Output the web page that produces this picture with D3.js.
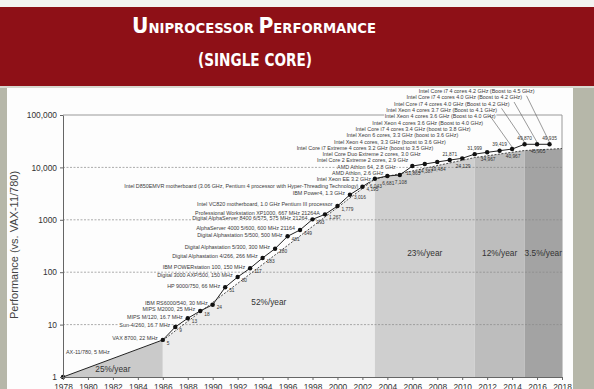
<!DOCTYPE html>
<html>
<head>
<meta charset="utf-8">
<script src="https://cdn.jsdelivr.net/npm/d3@7"></script>
<style>
  html, body { margin: 0; padding: 0; background: #b6b7a9; }
  svg { display: block; }
</style>
</head>
<body>
<div id="chart"></div>
<script>
const WIDTH = 594;
const HEIGHT = 389;
const FONT = 'Liberation Sans, Arial, sans-serif';
const TITLE_FONT = 'Liberation Sans Narrow, DejaVu Sans Condensed, Arial Narrow, sans-serif';

// machines, one per year, performance as plotted on the chart
const years = [1978, 1986, 1987, 1988, 1989, 1990, 1991, 1992, 1993, 1994, 1995,
  1996, 1997, 1998, 1999, 2000, 2001, 2002, 2003, 2004, 2005, 2006, 2007, 2008,
  2009, 2010, 2011, 2012, 2013, 2014, 2015, 2016, 2017];
const perf = [1, 5.1, 9, 13.2, 18.2, 24, 51.5, 81, 119, 187, 281,
  484, 639, 1020, 1270, 1830, 3010, 4280, 6090, 6860, 7160, 10600, 11600, 12700,
  13800, 14900, 17900, 19400, 20800, 22400, 27600, 27600, 27600];
const valueLabels = ['', '5', '9', '13', '18', '24', '51', '80', '117', '183', '280',
  '481', '649', '993', '1,267', '1,779', '3,016', '4,195', '6,043', '6,681', '7,108',
  '11,865', '14,387', '19,484', '21,871', '24,129', '31,999', '34,967', '39,419',
  '40,967', '49,870', '45,905', '49,935'];
const machines = [
  'AX-11/780, 5 MHz',
  'VAX 8700, 22 MHz',
  'Sun-4/260, 16.7 MHz',
  'MIPS M/120, 16.7 MHz',
  'MIPS M2000, 25 MHz',
  'IBM RS6000/540, 30 MHz',
  'HP 9000/750, 66 MHz',
  'Digital 3000 AXP/500, 150 MHz',
  'IBM POWERstation 100, 150 MHz',
  'Digital Alphastation 4/266, 266 MHz',
  'Digital Alphastation 5/300, 300 MHz',
  'Digital Alphastation 5/500, 500 MHz',
  'AlphaServer 4000 5/600, 600 MHz 21164',
  'Digital AlphaServer 8400 6/575, 575 MHz 21264',
  'Professional Workstation XP1000, 667 MHz 21264A',
  'Intel VC820 motherboard, 1.0 GHz Pentium III processor',
  'IBM Power4, 1.3 GHz',
  'Intel D850EMVR motherboard (3.06 GHz, Pentium 4 processor with Hyper-Threading Technology)',
  'Intel Xeon EE 3.2 GHz',
  'AMD Athlon, 2.6 GHz',
  'AMD Athlon 64, 2.8 GHz',
  'Intel Core 2 Extreme 2 cores, 2.9 GHz',
  'Intel Core Duo Extreme 2 cores, 3.0 GHz',
  'Intel Core i7 Extreme 4 cores 3.2 GHz (boost to 3.5 GHz)',
  'Intel Xeon 4 cores, 3.3 GHz (boost to 3.6 GHz)',
  'Intel Xeon 6 cores, 3.3 GHz (boost to 3.6 GHz)',
  'Intel Core i7 4 cores 3.4 GHz (boost to 3.8 GHz)',
  'Intel Xeon 4 cores 3.6 GHz (Boost to 4.0 GHz)',
  'Intel Xeon 4 cores 3.6 GHz (Boost to 4.0 GHz)',
  'Intel Xeon 4 cores 3.7 GHz (Boost to 4.1 GHz)',
  'Intel Core i7 4 cores 4.0 GHz (Boost to 4.2 GHz)',
  'Intel Core i7 4 cores 4.0 GHz (Boost to 4.2 GHz)',
  'Intel Core i7 4 cores 4.2 GHz (Boost to 4.5 GHz)'
];

// growth eras (shaded areas under the trend line)
const trendYears = [1978, 1986, 2003, 2011, 2015, 2018];
const trendPerf = [1, 5, 6000, 15400, 21000, 22900];
const eraRates = ['25%/year', '52%/year', '23%/year', '12%/year', '3.5%/year'];
const eraColors = ['#cacaca', '#ececec', '#cfcfcf', '#bdbdbd', '#a3a3a3'];
const rateAnchor = [1.42, 27, 236, 236, 236];

const yTicks = [1, 10, 100, 1000, 10000, 100000];
const yTickLabels = ['1', '10', '100', '1000', '10,000', '100,000'];
const xTicks = [1978, 1980, 1982, 1984, 1986, 1988, 1990, 1992, 1994, 1996, 1998,
  2000, 2002, 2004, 2006, 2008, 2010, 2012, 2014, 2016, 2018];

const svg = d3.select('#chart').append('svg')
  .attr('width', WIDTH)
  .attr('height', HEIGHT);

// slide frame
svg.append('rect').attr('width', WIDTH).attr('height', HEIGHT).attr('fill', '#b6b7a9');
svg.append('rect').attr('width', WIDTH).attr('height', 7).attr('fill', '#f3f3f1');
svg.append('rect').attr('y', 7).attr('width', WIDTH).attr('height', 79).attr('fill', '#8e1017');
svg.append('rect').attr('y', 86).attr('width', WIDTH).attr('height', 2).attr('fill', '#d8d8d0');
svg.append('rect').attr('x', 7).attr('y', 88).attr('width', 566).attr('height', HEIGHT - 88)
  .attr('fill', '#fdfdfd');

const t1 = svg.append('text')
  .attr('x', 254).attr('y', 32.5)
  .attr('text-anchor', 'middle')
  .attr('fill', '#fff')
  .attr('font-family', TITLE_FONT)
  .attr('font-weight', 'bold')
  .attr('textLength', 244)
  .attr('lengthAdjust', 'spacingAndGlyphs');
[['U', 21.5], ['NIPROCESSOR ', 14], ['P', 21.5], ['ERFORMANCE', 14]].forEach(s => {
  t1.append('tspan').attr('font-size', s[1]).text(s[0]);
});

svg.append('text')
  .attr('x', 255).attr('y', 65.5)
  .attr('text-anchor', 'middle')
  .attr('fill', '#fff')
  .attr('font-family', TITLE_FONT)
  .attr('font-weight', 'bold')
  .attr('font-size', 18.5)
  .attr('textLength', 114)
  .attr('lengthAdjust', 'spacingAndGlyphs')
  .text('(SINGLE CORE)');

// chart
const x = d3.scaleLinear().domain([1978, 2018]).range([63, 562]);
const y = d3.scaleLog().domain([1, 100000]).range([377, 115]);

const plot = svg.append('g');

// frame of the plot (partly hidden by labels and shading)
plot.append('path')
  .attr('d', `M${x(1978)},${y(100000)}H${x(2018)}V${y(1)}`)
  .attr('fill', 'none')
  .attr('stroke', '#999')
  .attr('stroke-width', 1);

const trend = trendYears.map((t, i) => ({ year: t, perf: trendPerf[i] }));

const area = d3.area()
  .x(d => x(d.year))
  .y0(y(1))
  .y1(d => y(d.perf));

eraRates.forEach((rate, i) => {
  plot.append('path')
    .datum([trend[i], trend[i + 1]])
    .attr('d', area)
    .attr('fill', eraColors[i]);
});

// dashed grid lines
plot.selectAll('.grid')
  .data(yTicks.slice(1, -1))
  .enter().append('line')
  .attr('class', 'grid')
  .attr('x1', x(1978)).attr('x2', x(2018))
  .attr('y1', d => y(d)).attr('y2', d => y(d))
  .attr('stroke', '#8a8a8a')
  .attr('stroke-width', 0.7)
  .attr('stroke-dasharray', '2,1.5');

// trend line
plot.append('path')
  .datum(trend.slice(1))
  .attr('d', d3.line().x(d => x(d.year)).y(d => y(d.perf)))
  .attr('fill', 'none')
  .attr('stroke', '#222')
  .attr('stroke-width', 0.8)
  .attr('stroke-dasharray', '2,1.5');

const points = years.map((yr, i) => ({
  year: yr, perf: perf[i], name: machines[i], value: valueLabels[i]
}));

// performance line
plot.append('path')
  .datum(points)
  .attr('d', d3.line().x(d => x(d.year)).y(d => y(d.perf)))
  .attr('fill', 'none')
  .attr('stroke', '#222')
  .attr('stroke-width', 1);

// label layout
const STACK_FROM = 2002;
const LEADER_FROM = 2014;
const stackTop = y(perf[years.indexOf(STACK_FROM)]) - 1;

points.forEach((p, i) => {
  p.px = x(p.year);
  p.py = y(p.perf);
  if (i === 0) {
    p.lx = p.px + 3; p.ly = p.py - 25; p.anchor = 'start';
  } else if (p.year < STACK_FROM) {
    p.lx = p.px - 5; p.ly = p.py - 1.5; p.anchor = 'end';
  } else {
    p.ly = stackTop - (p.year - STACK_FROM) * 6.3;
    p.lx = p.px - (p.year >= LEADER_FROM ? 15 : 4);
    p.anchor = 'end';
  }
  if (p.year <= 2002) {
    p.vx = p.px + 4; p.vy = p.py + 3; p.vanchor = 'start';
  } else if (p.year >= 2009 && p.year % 2 === 1) {
    p.vx = p.px; p.vy = p.py - 6; p.vanchor = 'middle';
  } else {
    p.vx = p.px + 1; p.vy = p.py + 7.5; p.vanchor = 'middle';
  }
});

const names = plot.selectAll('.name')
  .data(points)
  .enter().append('g')
  .attr('class', 'name');

names.append('text')
  .attr('x', d => d.lx)
  .attr('y', d => d.ly)
  .attr('dy', '0.35em')
  .attr('text-anchor', d => d.anchor)
  .attr('font-family', FONT)
  .attr('font-size', 5.4)
  .attr('fill', '#3a3a3a')
  .text(d => d.name);

names.each(function () {
  const g = d3.select(this);
  const b = g.select('text').node().getBBox();
  g.insert('rect', 'text')
    .attr('x', b.x - 0.5).attr('y', b.y + 0.6)
    .attr('width', b.width + 1).attr('height', b.height - 1.2)
    .attr('fill', '#fdfdfd');
});

// leader lines for the last labels
plot.selectAll('.leader')
  .data(points.filter(d => d.year >= LEADER_FROM))
  .enter().append('line')
  .attr('class', 'leader')
  .attr('x1', d => d.lx - 8).attr('y1', d => d.ly + 4.5)
  .attr('x2', d => d.px).attr('y2', d => d.py - 2)
  .attr('stroke', '#555')
  .attr('stroke-width', 0.6);

plot.selectAll('.point')
  .data(points)
  .enter().append('circle')
  .attr('class', 'point')
  .attr('cx', d => d.px)
  .attr('cy', d => d.py)
  .attr('r', 2.2)
  .attr('fill', '#111');

plot.selectAll('.value')
  .data(points)
  .enter().append('text')
  .attr('class', 'value')
  .attr('x', d => d.vx)
  .attr('y', d => d.vy)
  .attr('dy', '0.35em')
  .attr('text-anchor', d => d.vanchor)
  .attr('font-family', FONT)
  .attr('font-size', 4.8)
  .attr('fill', '#333')
  .text(d => d.value);

plot.selectAll('.rate')
  .data(eraRates)
  .enter().append('text')
  .attr('class', 'rate')
  .attr('x', (d, i) => x((trendYears[i] + trendYears[i + 1]) / 2))
  .attr('y', (d, i) => y(rateAnchor[i]))
  .attr('dy', '0.35em')
  .attr('text-anchor', 'middle')
  .attr('font-family', FONT)
  .attr('font-size', 8.3)
  .attr('fill', '#333')
  .text(d => d);

// axes
const yAxis = svg.append('g')
  .attr('transform', `translate(${x(1978)},0)`)
  .call(d3.axisLeft(y)
    .tickValues(yTicks)
    .tickFormat((d, i) => yTickLabels[i])
    .tickSize(3)
    .tickPadding(3)
    .tickSizeOuter(0));

const xAxis = svg.append('g')
  .attr('transform', `translate(0,${y(1)})`)
  .call(d3.axisBottom(x)
    .tickValues(xTicks)
    .tickFormat(d3.format('d'))
    .tickSize(3)
    .tickPadding(4)
    .tickSizeOuter(0));

[yAxis, xAxis].forEach(a => {
  a.select('.domain').attr('stroke', '#666');
  a.selectAll('.tick line').attr('stroke', '#666');
  a.selectAll('.tick text')
    .attr('font-family', FONT)
    .attr('font-size', 8.4)
    .attr('fill', '#333');
});

svg.append('text')
  .attr('transform', 'translate(14,245) rotate(-90)')
  .attr('dy', '0.35em')
  .attr('text-anchor', 'middle')
  .attr('font-family', FONT)
  .attr('font-size', 11)
  .attr('fill', '#444')
  .text('Performance (vs. VAX-11/780)');
</script>
</body>
</html>
